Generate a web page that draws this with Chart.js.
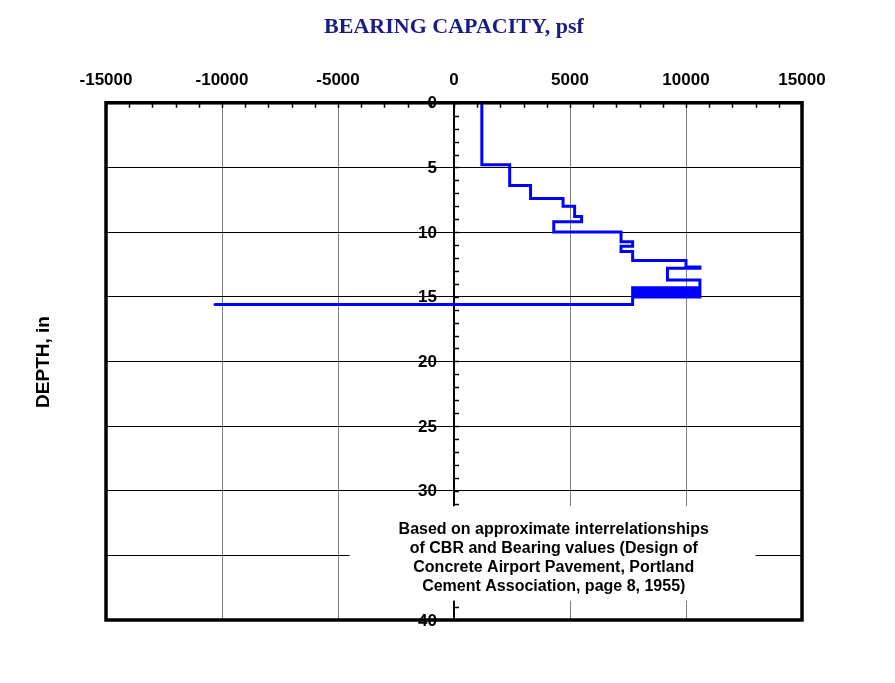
<!DOCTYPE html>
<html>
<head>
<meta charset="utf-8">
<script src="https://cdn.jsdelivr.net/npm/chart.js@4/dist/chart.umd.min.js"></script>
<style>
  html, body { margin: 0; padding: 0; background: #fff; }
  #wrap { width: 895px; height: 683px; }
</style>
</head>
<body>
<div id="wrap"><canvas id="c" width="895" height="683"></canvas></div>
<script>
// Corner points of the stepped bearing-capacity trace, top to bottom
const bearingPsf = [
  1200, 1200, 2400, 2400, 3300, 3300, 4700, 4700, 5200, 5200, 5500, 5500,
  4300, 4300, 7200, 7200, 7700, 7700, 7200, 7200, 7700, 7700, 10000, 10000,
  10600, 10600, 9200, 9200, 10600, 10600,
  7700, 7700, 10600, 10600, 7700, 7700, 10600, 10600, 7700, 7700, 10600, 10600,
  7700, 7700, -10300
];
const depthIn = [
  0, 4.8, 4.8, 6.4, 6.4, 7.4, 7.4, 8.0, 8.0, 8.8, 8.8, 9.2,
  9.2, 10.0, 10.0, 10.75, 10.75, 11.1, 11.1, 11.5, 11.5, 12.2, 12.2, 12.7,
  12.7, 12.8, 12.8, 13.7, 13.7, 14.3,
  14.3, 14.42, 14.42, 14.54, 14.54, 14.66, 14.66, 14.78, 14.78, 14.9, 14.9, 15.02,
  15.02, 15.6, 15.6
];

// Axis ranges and tick spacing
const bearingRange = [-15000, 15000];
const bearingStep = 5000;
const bearingMinorStep = 1000;
const depthRange = [0, 40];
const depthStep = 5;
const depthMinorStep = 1;

// Text
const chartTitle = 'BEARING CAPACITY, psf';
const depthTitle = 'DEPTH, in';
const noteLines = [
  'Based on approximate interrelationships',
  'of CBR and Bearing values (Design of',
  'Concrete Airport Pavement, Portland',
  'Cement Association, page 8, 1955)'
];
// Note box corners in data units (bearing, depth) and text anchor
const noteBox = { x0: -4500, x1: 13000, y0: 31.2, y1: 38.5, cx: 4300, cy: 33.0 };

const points = bearingPsf.map((b, i) => ({ x: b, y: depthIn[i] }));

const SANS = '"Liberation Sans", Arial, sans-serif';
const TICK_FONT = 'bold 17px ' + SANS;

const decor = {
  id: 'decor',
  beforeDatasetsDraw(chart) {
    const { ctx } = chart;
    const xs = chart.scales.x, ys = chart.scales.y;
    const a = chart.chartArea;
    ctx.save();
    ctx.strokeStyle = '#000';
    // minor ticks hanging down from the top axis
    ctx.lineWidth = 1.5;
    for (let v = bearingRange[0]; v <= bearingRange[1]; v += bearingMinorStep) {
      const px = Math.round(xs.getPixelForValue(v)) + 0.5;
      ctx.beginPath();
      ctx.moveTo(px, a.top);
      ctx.lineTo(px, a.top + 5);
      ctx.stroke();
    }
    // minor ticks to the right of the depth axis
    const x0 = xs.getPixelForValue(0);
    for (let d = depthRange[0]; d <= depthRange[1]; d += depthMinorStep) {
      const py = Math.round(ys.getPixelForValue(d)) + 0.5;
      ctx.beginPath();
      ctx.moveTo(x0, py);
      ctx.lineTo(x0 + 5, py);
      ctx.stroke();
    }
    // depth tick labels, set off to the left of the centred axis
    ctx.fillStyle = '#000';
    ctx.font = TICK_FONT;
    ctx.textAlign = 'right';
    ctx.textBaseline = 'middle';
    ys.ticks.forEach(t => {
      ctx.fillText(String(t.value), x0 - 17, ys.getPixelForValue(t.value) + 1);
    });
    ctx.restore();
  },
  afterDatasetsDraw(chart) {
    const { ctx } = chart;
    const xs = chart.scales.x, ys = chart.scales.y;
    const a = chart.chartArea;
    ctx.save();
    // note panel
    const bx0 = xs.getPixelForValue(noteBox.x0), bx1 = xs.getPixelForValue(noteBox.x1);
    const by0 = ys.getPixelForValue(noteBox.y0), by1 = ys.getPixelForValue(noteBox.y1);
    ctx.fillStyle = '#fff';
    ctx.fillRect(bx0, by0, bx1 - bx0, by1 - by0);
    ctx.fillStyle = '#000';
    ctx.font = 'bold 16px ' + SANS;
    ctx.textAlign = 'center';
    ctx.textBaseline = 'middle';
    const cx = xs.getPixelForValue(noteBox.cx);
    const cy = ys.getPixelForValue(noteBox.cy);
    noteLines.forEach((t, i) => ctx.fillText(t, cx, cy + i * 19));
    // plot frame
    ctx.strokeStyle = '#000';
    ctx.lineWidth = 3.5;
    ctx.strokeRect(a.left, a.top, a.right - a.left, a.bottom - a.top);
    // depth axis title
    ctx.translate(44, 362);
    ctx.rotate(-Math.PI / 2);
    ctx.font = 'bold 19px ' + SANS;
    ctx.fillText(depthTitle, 0, 0);
    ctx.restore();
  }
};

new Chart(document.getElementById('c'), {
  type: 'scatter',
  data: {
    datasets: [{
      data: points,
      showLine: true,
      borderColor: '#0000ff',
      backgroundColor: '#0000ff',
      borderWidth: 3,
      borderCapStyle: 'round',
      borderJoinStyle: 'miter',
      pointRadius: 0,
      tension: 0
    }]
  },
  options: {
    responsive: false,
    animation: false,
    layout: { padding: { left: 106, right: 93, top: 0, bottom: 63 } },
    plugins: {
      legend: { display: false },
      tooltip: { enabled: false },
      title: {
        display: true,
        text: chartTitle,
        color: '#1b1b84',
        font: { family: '"Liberation Serif", "Times New Roman", serif', size: 22, weight: 'bold' },
        padding: { top: 14, bottom: 18 }
      }
    },
    scales: {
      x: {
        type: 'linear',
        position: 'top',
        min: bearingRange[0],
        max: bearingRange[1],
        ticks: {
          stepSize: bearingStep,
          padding: 12,
          color: '#000',
          font: { family: SANS, size: 17, weight: 'bold' },
          callback: v => String(v)
        },
        grid: { color: '#808080', lineWidth: 1, drawTicks: false },
        border: { display: true, color: '#000', width: 3 }
      },
      y: {
        type: 'linear',
        position: { x: 0 },
        reverse: true,
        min: depthRange[0],
        max: depthRange[1],
        ticks: {
          display: false,
          stepSize: depthStep
        },
        grid: { color: '#000', lineWidth: 1, drawTicks: false },
        border: { display: true, color: '#000', width: 2 }
      }
    }
  },
  plugins: [decor]
});
</script>
</body>
</html>
